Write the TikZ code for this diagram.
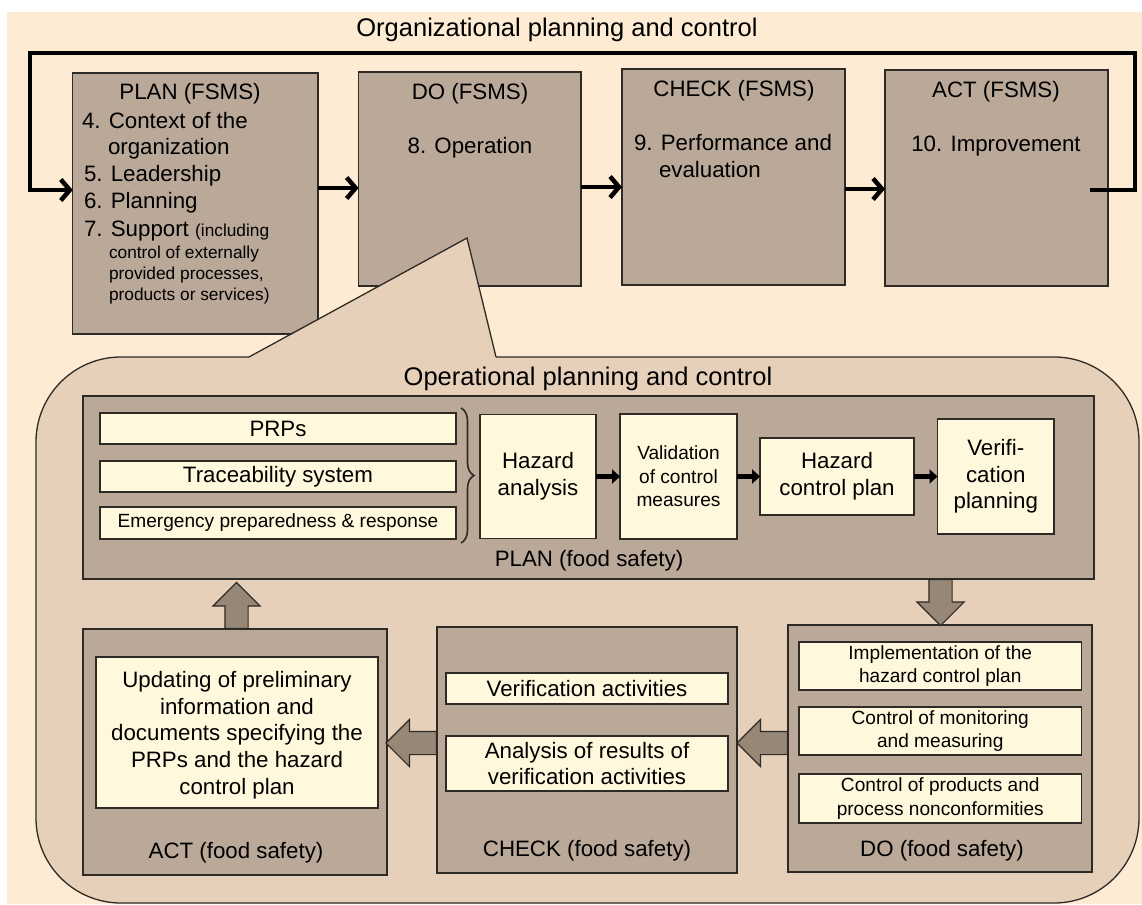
\documentclass[tikz,border=0pt]{standalone}
\usepackage{fontspec}
\setmainfont{Liberation Sans}
\usetikzlibrary{arrows.meta,shapes.arrows,decorations.pathreplacing,calc}
\definecolor{bgc}{HTML}{FDEBD3}
\definecolor{callc}{HTML}{E7D0B9}
\definecolor{boxc}{HTML}{BAA898}
\definecolor{litec}{HTML}{FFF8DC}
\definecolor{arrc}{HTML}{978776}
\definecolor{bdr}{HTML}{2E2A26}
\newcommand{\fsA}{\fontsize{22.3}{26.7}\selectfont}
\newcommand{\fsB}{\fontsize{19.1}{23.5}\selectfont}
\newcommand{\fsC}{\fontsize{17.3}{21}\selectfont}
\newcommand{\fsT}{\fontsize{25.5}{30}\selectfont}
\begin{document}
\begin{tikzpicture}[x=1pt,y=-1pt,
  bigbox/.style={draw=bdr, fill=boxc, line width=1.3pt, inner sep=0pt, outer sep=0pt},
  litebox/.style={draw=bdr, fill=litec, line width=1.3pt, inner sep=0pt, outer sep=0pt, align=center},
  lbl/.style={inner sep=0pt, outer sep=0pt},
  bl/.style={lbl, anchor=base},
  bw/.style={lbl, anchor=base west},
  loopline/.style={line width=4.5pt, -{Straight Barb[length=9pt,width=21pt]}},
  fsarr/.style={line width=4.5pt, -{Straight Barb[length=9pt,width=21pt]}},
  smallarr/.style={line width=5pt, -{Triangle[length=8pt,width=14pt]}},
  blockarr/.style={single arrow, draw=bdr, fill=arrc, line width=1.2pt, inner sep=11pt,
    single arrow head extend=12pt, single arrow tip angle=90, single arrow head indent=0pt,
    minimum width=46pt, anchor=tail}
]
\useasboundingbox (0,0) rectangle (1142,904);
\fill[white] (0,0) rectangle (1142,904);
\fill[bgc] (7,12) rectangle (1142,904);

% title
\node[bl, font=\fsT] (title) at (557,37) {Organizational planning and control};

% FSMS boxes
\node[bigbox, minimum width=245.3pt, minimum height=261pt] (planF) at (195.4,203.5) {};
\node[bigbox, minimum width=222.4pt, minimum height=214pt] (doF) at (469.8,179) {};
\node[bigbox, minimum width=223pt, minimum height=216pt] (checkF) at (733.5,177) {};
\node[bigbox, minimum width=223pt, minimum height=216pt] (actF) at (996.5,178) {};

\node[bl, font=\fsA] (planFt) at (190,100) {PLAN (FSMS)};
\node[bw, font=\fsA] (planF4) at (82,128.3) {4. Context of the};
\node[bw, font=\fsA] (planF4b) at (108,155) {organization};
\node[bw, font=\fsA] (planF5) at (84,181.7) {5. Leadership};
\node[bw, font=\fsA] (planF6) at (84,208.3) {6. Planning};
\node[bw, font=\fsA] (planF7) at (84,236.7) {7. Support {\fsC(including}};
\node[bw, font=\fsC] (planF7b) at (109,258.3) {control of externally};
\node[bw, font=\fsC] (planF7c) at (109,279.3) {provided processes,};
\node[bw, font=\fsC] (planF7d) at (109,300) {products or services)};

\node[bl, font=\fsA] (doFt) at (470,100) {DO (FSMS)};
\node[bl, font=\fsA] (doF8) at (470,153.3) {8. Operation};

\node[bl, font=\fsA] (checkFt) at (734,96.7) {CHECK (FSMS)};
\node[bw, font=\fsA] (checkF9) at (634,150.7) {9. Performance and};
\node[bw, font=\fsA] (checkF9b) at (659,177.3) {evaluation};

\node[bl, font=\fsA] (actFt) at (996,97.7) {ACT (FSMS)};
\node[bl, font=\fsA] (actF10) at (996,151.7) {10. Improvement};

% arrows between FSMS boxes
\draw[fsarr] (planF.east |- 0,188) -- (doF.west |- 0,188);
\draw[fsarr] (doF.east |- 0,187) -- (checkF.west |- 0,187);
\draw[fsarr] (checkF.east |- 0,189) -- (actF.west |- 0,189);

% feedback loop
\coordinate (loopS) at (1090,190);
\draw[loopline] (loopS) -- (1135,190) -- (1135,53) -- (30,53) -- (30,190) -- (planF.west |- loopS);

% callout
\fill[callc, rounded corners=85pt] (36,357) rectangle (1139,903);
\fill[callc] (249,358) -- (467,238) -- (496,358) -- cycle;
\draw[bdr, line width=1.3pt] (249,357) -- (467,238) -- (496,357);
\draw[bdr, line width=1.3pt, rounded corners=85pt] (496,357) -- (1139,357) -- (1139,903) -- (36,903) -- (36,357) -- (249,357);

\node[bl, font=\fsT] (opTitle) at (588,385.7) {Operational planning and control};

% PLAN (food safety)
\node[bigbox, minimum width=1011pt, minimum height=183pt] (planFS) at (588.5,487.5) {};
\node[litebox, font=\fsA, minimum width=356pt, minimum height=31pt] (prp) at (278,428.5) {PRPs};
\node[litebox, font=\fsA, minimum width=356pt, minimum height=31pt] (trace) at (278,476.5) {Traceability system};
\node[litebox, font=\fsB, minimum width=356pt, minimum height=32pt] (emg) at (278,523) {Emergency preparedness \& response};
\draw[bdr, line width=1.6pt, decorate, decoration={brace, amplitude=13pt}]
  ($(prp.north east)+(5,-5)$) -- ($(emg.south east)+(5,4)$);
\node[litebox, font=\fsA, minimum width=116pt, minimum height=124pt] (haz) at (538,476.5) {Hazard\\analysis};
\node[litebox, font=\fsB, minimum width=117pt, minimum height=125pt] (val) at (678.5,476.5) {Validation\\of control\\measures};
\node[litebox, font=\fsA, minimum width=154pt, minimum height=77pt] (hcp) at (837,476.5) {Hazard\\control plan};
\node[litebox, font=\fsA, minimum width=116.5pt, minimum height=115pt] (ver) at (995.75,476.5) {Verifi-\\cation\\planning};
\draw[smallarr] (haz.east) -- (val.west);
\draw[smallarr] (val.east) -- (hcp.west);
\draw[smallarr] (hcp.east) -- (ver.west);
\node[bl, font=\fsA] (planFSt) at (589,566.7) {PLAN (food safety)};

% ACT (food safety)
\node[bigbox, minimum width=304pt, minimum height=246pt] (actFS) at (235,752) {};
\node[litebox, minimum width=282pt, minimum height=151pt] (actIn) at (237,732.5) {};
\node[lbl, font=\fsA, align=center] (actInT) at (237,735)
  {Updating of preliminary\\information and\\documents specifying the\\PRPs and the hazard\\control plan};
\node[bl, font=\fsA] (actFSt) at (236,858.3) {ACT (food safety)};

% CHECK (food safety)
\node[bigbox, minimum width=300pt, minimum height=246pt] (checkFS) at (587,750) {};
\node[litebox, font=\fsA, minimum width=282pt, minimum height=31pt] (verAct) at (587,688.5) {Verification activities};
\node[litebox, font=\fsA, minimum width=282pt, minimum height=55pt] (anaRes) at (587,763.5) {Analysis of results of\\verification activities};
\node[bl, font=\fsA] (checkFSt) at (587,856.7) {CHECK (food safety)};

% DO (food safety)
\node[bigbox, minimum width=304pt, minimum height=247pt] (doFS) at (940,748.5) {};
\node[litebox, font=\fsB, minimum width=282.5pt, minimum height=48pt] (impl) at (940.25,666) {Implementation of the\\hazard control plan};
\node[litebox, font=\fsB, minimum width=282.5pt, minimum height=48pt] (ctrlMon) at (940.25,731) {Control of monitoring\\and measuring};
\node[litebox, font=\fsB, minimum width=282.5pt, minimum height=49pt] (ctrlProd) at (940.25,798.5) {Control of products and\\process nonconformities};
\node[bl, font=\fsA] (doFSt) at (942,856) {DO (food safety)};

% block arrows
\node[blockarr, shape border rotate=90, minimum height=46pt] (upA) at (actFS.north -| 236.5,0) {};
\node[blockarr, shape border rotate=270, minimum height=46pt] (downA) at (planFS.south -| 940.5,0) {};
\node[blockarr, shape border rotate=180, minimum height=50.5pt] (leftA1) at (doFS.west |- 0,743) {};
\node[blockarr, shape border rotate=180, minimum height=50.5pt] (leftA2) at (checkFS.west |- 0,743) {};
\end{tikzpicture}
\end{document}
